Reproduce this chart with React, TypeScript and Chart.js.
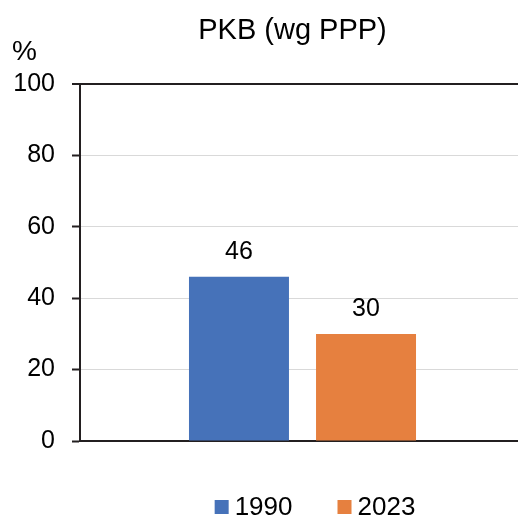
import React, { useEffect, useRef } from 'react';
import { Chart, registerables } from 'chart.js';

Chart.register(...registerables);

const categories = [''];
const seriesLabels = ['1990', '2023'];
const values1990 = [46];
const values2023 = [30];
const seriesColors = ['#4672B9', '#E6803F'];
const yTickValues = [0, 20, 40, 60, 80, 100];
const titleText = 'PKB (wg PPP)';
const unitText = '%';

const FONT = '"Liberation Sans", Arial, Helvetica, sans-serif';
const AXIS = '#231f20';
const GRID = '#d9d9d9';

const overlayPlugin = {
  id: 'overlay',
  afterDatasetsDraw(chart: any) {
    const ctx = chart.ctx;
    ctx.save();
    ctx.fillStyle = '#000';
    ctx.textBaseline = 'alphabetic';
    ctx.textAlign = 'center';
    // data labels
    ctx.font = `25px ${FONT}`;
    chart.data.datasets.forEach((ds: any, i: number) => {
      const meta = chart.getDatasetMeta(i);
      meta.data.forEach((bar: any, j: number) => {
        ctx.fillText(String(ds.data[j]), bar.x, bar.y - 18);
      });
    });
    // title
    ctx.font = `29px ${FONT}`;
    ctx.fillText(titleText, 292.5, 39);
    // unit
    ctx.font = `28px ${FONT}`;
    ctx.fillText(unitText, 24.5, 60);
    // legend
    ctx.font = `26px ${FONT}`;
    ctx.textAlign = 'left';
    const box = 14;
    const gap = 6;
    const itemGap = 45;
    const widths = chart.data.datasets.map((ds: any) => ctx.measureText(ds.label).width);
    let total = 0;
    widths.forEach((w: number, i: number) => {
      total += box + gap + w + (i > 0 ? itemGap : 0);
    });
    let x = 315 - total / 2;
    chart.data.datasets.forEach((ds: any, i: number) => {
      ctx.fillStyle = ds.backgroundColor;
      ctx.fillRect(x, 500, box, box);
      ctx.fillStyle = '#000';
      ctx.fillText(ds.label, x + box + gap, 515);
      x += box + gap + widths[i] + itemGap;
    });
    ctx.restore();
  },
};

export default function App() {
  const ref = useRef<HTMLCanvasElement | null>(null);
  useEffect(() => {
    if (!ref.current) return;
    const chart = new Chart(ref.current, {
      type: 'bar',
      data: {
        labels: categories,
        datasets: [
          { label: seriesLabels[0], data: values1990, backgroundColor: seriesColors[0] },
          { label: seriesLabels[1], data: values2023, backgroundColor: seriesColors[1] },
        ],
      },
      options: {
        responsive: false,
        animation: false,
        categoryPercentage: 0.571,
        barPercentage: 0.787,
        layout: { padding: { left: 0, right: 5, top: 84, bottom: 78 } },
        plugins: {
          legend: { display: false },
          title: { display: false },
          tooltip: { enabled: false },
        },
        scales: {
          x: {
            type: 'category',
            grid: { display: false },
            ticks: { display: false },
            border: { display: true, color: AXIS, width: 2 },
            afterFit: (scale: any) => {
              scale.height = 0;
            },
          },
          y: {
            min: 0,
            max: 100,
            afterBuildTicks: (scale: any) => {
              scale.ticks = yTickValues.map((v) => ({ value: v }));
            },
            afterFit: (scale: any) => {
              scale.width = 80;
            },
            ticks: {
              color: '#000',
              font: { family: FONT, size: 25 },
              padding: 17,
            },
            grid: {
              color: (c: any) => (c.tick && c.tick.value === 100 ? AXIS : GRID),
              lineWidth: (c: any) => (c.tick && c.tick.value === 100 ? 2 : 1),
              tickColor: AXIS,
              tickWidth: 2,
              tickLength: 8,
              drawTicks: true,
            },
            border: { display: true, color: AXIS, width: 2 },
          },
        },
      },
      plugins: [overlayPlugin],
    } as any);
    return () => chart.destroy();
  }, []);

  return (
    <div
      style={{
        position: 'fixed',
        left: 0,
        top: 0,
        width: 518,
        height: 519,
        overflow: 'hidden',
        background: '#fff',
      }}
    >
      <canvas ref={ref} width={530} height={519} style={{ width: 530, height: 519, display: 'block' }} />
    </div>
  );
}
